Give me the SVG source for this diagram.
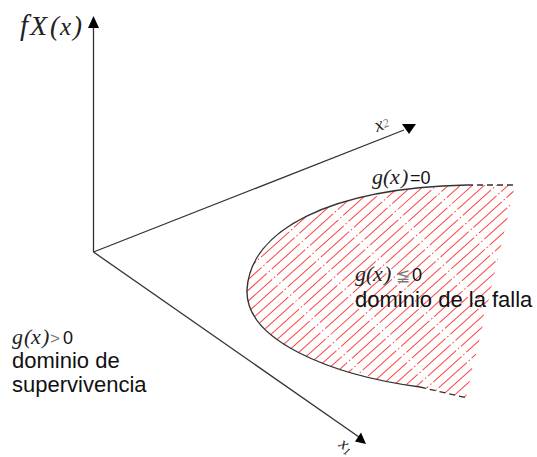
<svg xmlns="http://www.w3.org/2000/svg" width="537" height="457" viewBox="0 0 537 457">
  <style>
    .axis { stroke: #333; stroke-width: 1.3; fill: none; }
    .head { fill: #000; stroke: none; }
    .curve { stroke: #333; stroke-width: 1.4; fill: none; }
    .dash { stroke: #333; stroke-width: 1.3; fill: none; stroke-dasharray: 6 4; }
    .hatch { stroke: #f44; stroke-width: 1; fill: none; stroke-dasharray: 38 2.5 1.5 2.5; }
    .math { font-family: "Liberation Serif", "DejaVu Serif", serif; font-style: italic; fill: #222; }
    .sans { font-family: "Liberation Sans", Arial, sans-serif; fill: #111; }
    .grey { fill: #777; }
  </style>
  <defs>
    <clipPath id="region">
      <path d="M515,185 L467,185 C330,188 250,230 247,290 C245,340 330,375 420,387 L466,398 Z"/>
    </clipPath>
  </defs>

  <g id="hatched-region" clip-path="url(#region)">
    <g transform="rotate(-42 380 290)">
      <path class="hatch" d="M180,90h400 M180,98h400 M180,106h400 M180,114h400 M180,122h400 M180,130h400 M180,138h400 M180,146h400 M180,154h400 M180,162h400 M180,170h400 M180,178h400 M180,186h400 M180,194h400 M180,202h400 M180,210h400 M180,218h400 M180,226h400 M180,234h400 M180,242h400 M180,250h400 M180,258h400 M180,266h400 M180,274h400 M180,282h400 M180,290h400 M180,298h400 M180,306h400 M180,314h400 M180,322h400 M180,330h400 M180,338h400 M180,346h400 M180,354h400 M180,362h400 M180,370h400 M180,378h400 M180,386h400 M180,394h400 M180,402h400 M180,410h400 M180,418h400 M180,426h400 M180,434h400 M180,442h400 M180,450h400 M180,458h400 M180,466h400 M180,474h400 M180,482h400 M180,490h400"/>
    </g>
  </g>

  <g id="connectors">
    <line class="axis" x1="93.5" y1="252" x2="93.5" y2="26"/>
    <polygon class="head" points="93.5,16 88,28 99,28"/>
    <line class="axis" x1="93.5" y1="252" x2="404" y2="130"/>
    <polygon class="head" points="402,124 416,124 409,134"/>
    <line class="axis" x1="93.5" y1="252" x2="359" y2="437"/>
    <polygon class="head" points="366,444 355,441.5 361,432.5"/>
  </g>

  <g id="limit-curve">
    <path class="curve" d="M467,185 C330,188 250,230 247,290 C245,340 330,375 420,387"/>
    <line class="dash" x1="467" y1="185" x2="516" y2="185"/>
    <line class="dash" x1="420" y1="387" x2="467" y2="398"/>
  </g>

  <g id="label-fx">
    <text class="math" y="35">
      <tspan x="20" font-size="29">f</tspan><tspan x="30" font-size="28">X</tspan><tspan x="50" font-size="27">(</tspan><tspan x="60" font-size="25">x</tspan><tspan x="73" font-size="27">)</tspan>
    </text>
  </g>

  <g id="label-x2">
    <text class="math" transform="translate(377,132) rotate(-21)" font-size="19" font-style="normal" fill="#444">x<tspan class="grey" font-size="12" dy="-1">2</tspan></text>
  </g>

  <g id="label-x1">
    <text class="math" transform="translate(338,446) rotate(35)" font-size="17">x<tspan font-size="11" dy="3">1</tspan></text>
  </g>

  <g id="label-g0">
    <text class="math" y="184" font-size="22"><tspan x="372">g</tspan><tspan x="383">(</tspan><tspan x="390">x</tspan><tspan x="401">)</tspan></text>
    <text class="sans" x="410" y="184" font-size="18">=0</text>
  </g>

  <g id="label-failure">
    <text class="math" y="281" font-size="22"><tspan x="355">g</tspan><tspan x="366">(</tspan><tspan x="373">x</tspan><tspan x="384">)</tspan></text>
    <text class="sans grey" x="396" y="281" font-size="17">≦</text>
    <text class="sans" x="412" y="281" font-size="18">0</text>
    <text class="sans" x="355" y="307" font-size="22">dominio de la falla</text>
  </g>

  <g id="label-survival">
    <text class="math" y="344" font-size="22"><tspan x="12">g</tspan><tspan x="24">(</tspan><tspan x="31">x</tspan><tspan x="42">)</tspan></text>
    <text class="sans grey" x="50" y="344" font-size="17">&gt;</text>
    <text class="sans" x="63" y="344" font-size="18">0</text>
    <text class="sans" x="12" y="368" font-size="22">dominio de</text>
    <text class="sans" x="12" y="392" font-size="22">supervivencia</text>
  </g>
</svg>
